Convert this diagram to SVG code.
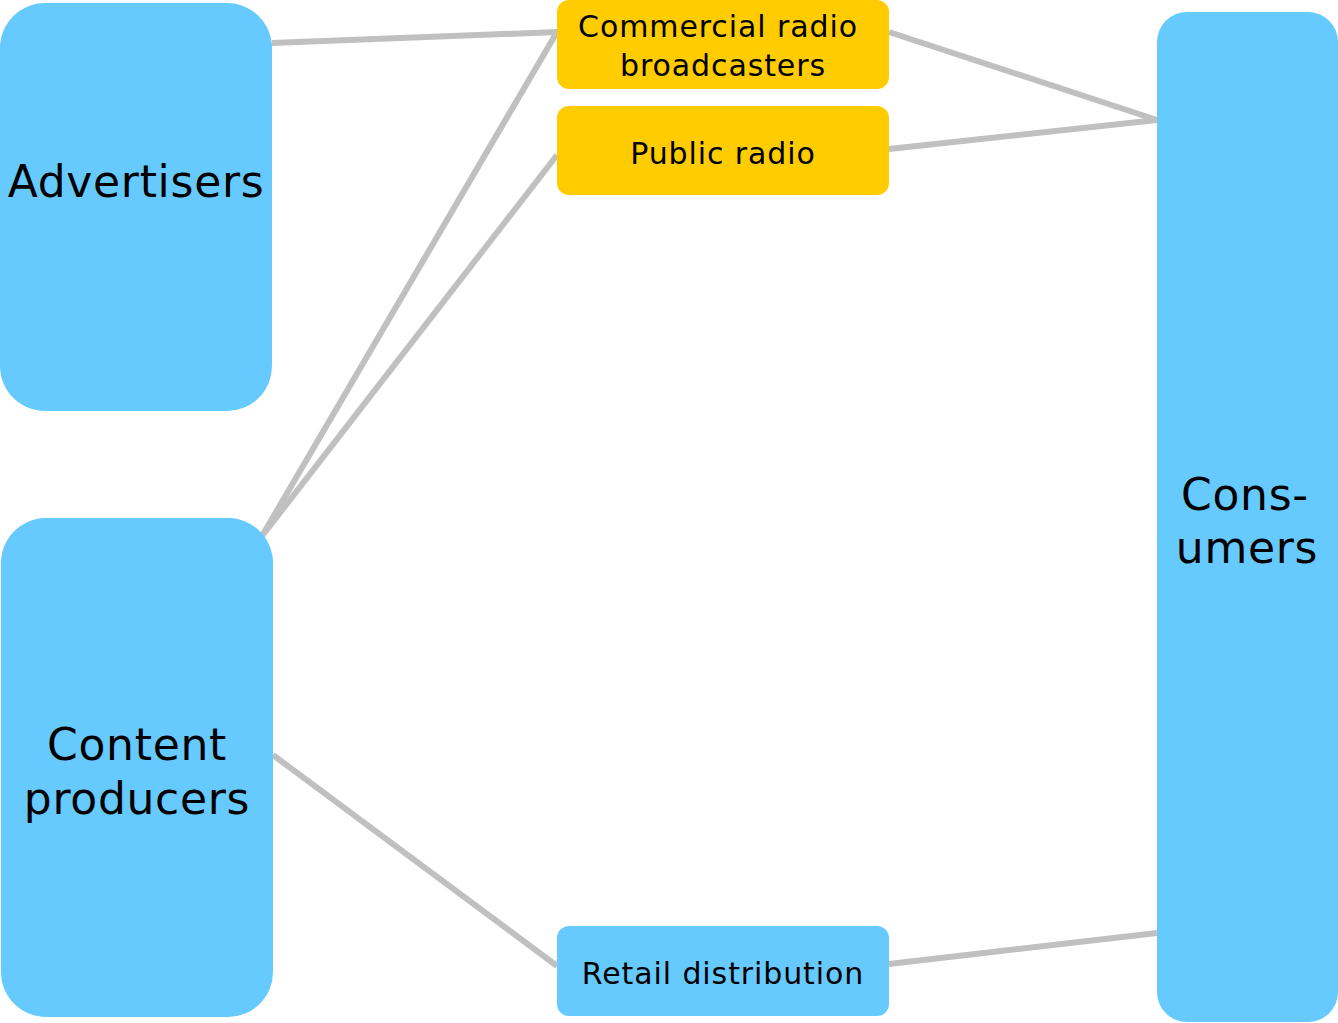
<svg xmlns="http://www.w3.org/2000/svg" width="1338" height="1023" viewBox="0 0 1338 1023">
  <style>
    .blue { fill: #66caff; }
    .gold { fill: #ffcc00; }
    .big { font-family: "DejaVu Sans", Verdana, sans-serif; font-size: 44px; letter-spacing: 0.7px; fill: #000; text-anchor: middle; }
    .small { font-family: "DejaVu Sans", Verdana, sans-serif; font-size: 30px; letter-spacing: 0.9px; fill: #000; text-anchor: middle; }
    .link { stroke: #c0c0c0; stroke-width: 6; fill: none; stroke-linecap: butt; }
  </style>

  <!-- connectors -->
  <g id="connectors">
    <line class="link" x1="272" y1="43" x2="557" y2="32"/>
    <line class="link" x1="262" y1="536" x2="557" y2="32"/>
    <line class="link" x1="262" y1="536" x2="557" y2="155"/>
    <line class="link" x1="273" y1="755" x2="557" y2="966"/>
    <line class="link" x1="889" y1="32" x2="1157" y2="120"/>
    <line class="link" x1="889" y1="149" x2="1157" y2="120"/>
    <line class="link" x1="889" y1="964" x2="1157" y2="933"/>
  </g>

  <!-- nodes -->
  <g id="advertisers">
    <rect class="blue" x="0" y="3" width="272" height="408" rx="45" ry="45"/>
    <text class="big" x="136" y="197">Advertisers</text>
  </g>

  <g id="content-producers">
    <rect class="blue" x="1" y="518" width="272" height="499" rx="45" ry="45"/>
    <text class="big" x="137" y="760">Content</text>
    <text class="big" x="137" y="814">producers</text>
  </g>

  <g id="commercial-radio">
    <rect class="gold" x="557" y="0" width="332" height="89" rx="12" ry="12"/>
    <text class="small" x="718" y="37">Commercial radio</text>
    <text class="small" x="723" y="76">broadcasters</text>
  </g>

  <g id="public-radio">
    <rect class="gold" x="557" y="106" width="332" height="89" rx="12" ry="12"/>
    <text class="small" x="723" y="164">Public radio</text>
  </g>

  <g id="retail-distribution">
    <rect class="blue" x="557" y="926" width="332" height="90" rx="12" ry="12"/>
    <text class="small" x="723" y="984">Retail distribution</text>
  </g>

  <g id="consumers">
    <rect class="blue" x="1157" y="12" width="181" height="1010" rx="30" ry="30"/>
    <text class="big" x="1245" y="510">Cons-</text>
    <text class="big" x="1247" y="563">umers</text>
  </g>
</svg>
